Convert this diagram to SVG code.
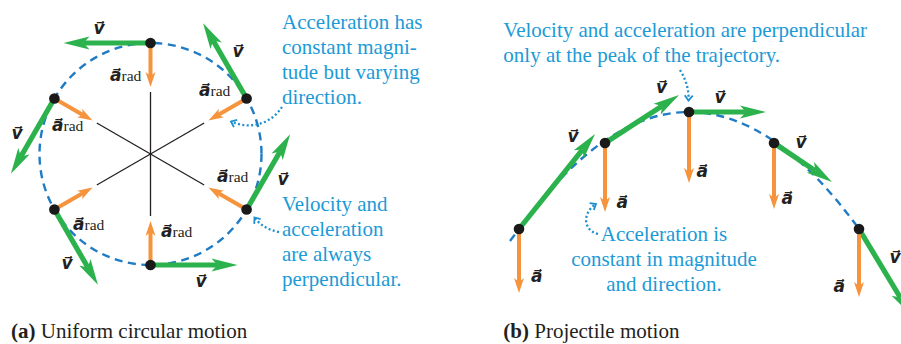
<svg xmlns="http://www.w3.org/2000/svg" width="901" height="344" viewBox="0 0 901 344">
<style>
.txt{font-family:"Liberation Serif","Times New Roman",serif;font-size:21px;fill:#1c9ad6}
.cap{font-family:"Liberation Serif","Times New Roman",serif;font-size:21px;fill:#231f20}
.vec{font-family:"DejaVu Sans",sans-serif;font-size:17px;font-weight:bold;font-style:italic;fill:#231f20}
.mid{text-anchor:middle}
.sub{font-family:"Liberation Serif","Times New Roman",serif;font-size:15.5px;font-weight:normal;font-style:normal}
.vel{stroke:#2bb24c;stroke-width:5.2;fill:none;marker-end:url(#gh)}
.acc{stroke:#f5943c;stroke-width:4;fill:none;marker-end:url(#oh)}
.dot{fill:#1a1a1a}
.spoke{stroke:#231f20;stroke-width:1.3}
.dash{stroke:#1f7bc4;stroke-width:2.4;fill:none;stroke-dasharray:8 5.5}
.ptr{stroke:#1c8fd0;stroke-width:2.3;fill:none;stroke-dasharray:2 2.4;marker-end:url(#ph)}
</style>
<defs>
<marker id="gh" markerUnits="userSpaceOnUse" viewBox="-10 -10 32 20" markerWidth="32" markerHeight="20" refX="0" refY="0" orient="auto" overflow="visible">
<path d="M20,0 L-6,-6.5 L0,0 L-6,6.5 Z" fill="#2bb24c"/>
</marker>
<marker id="oh" markerUnits="userSpaceOnUse" viewBox="-8 -8 22 16" markerWidth="22" markerHeight="16" refX="0" refY="0" orient="auto" overflow="visible">
<path d="M11,0 L-4,-5 L0,0 L-4,5 Z" fill="#f5943c"/>
</marker>
<marker id="ph" markerUnits="userSpaceOnUse" viewBox="-8 -6 10 12" markerWidth="10" markerHeight="12" refX="0" refY="0" orient="auto" overflow="visible">
<path d="M-5,-4 L0,0 L-5,4" fill="none" stroke="#1c8fd0" stroke-width="1.8"/>
</marker>
</defs>

<!-- (a) Uniform circular motion -->
<circle class="dash" cx="150.5" cy="154" r="111"/>
<g id="spokes">
<line class="spoke" x1="150.5" y1="92" x2="150.5" y2="216"/>
<line class="spoke" x1="204.2" y1="123" x2="96.8" y2="185"/>
<line class="spoke" x1="96.8" y1="123" x2="204.2" y2="185"/>
</g>

<g id="circ-top">
<line class="vel" x1="150.5" y1="43" x2="83.5" y2="43"/>
<line class="acc" x1="150.5" y1="43" x2="150.5" y2="76"/>
<circle class="dot" cx="150.5" cy="43" r="5.3"/>
<text class="vec" x="93.5" y="34">v&#x20D7;</text>
<text class="vec" x="110" y="81">a&#x20D7;<tspan class="sub">rad</tspan></text>
</g>
<g id="circ-upper-right">
<line class="vel" x1="246.6" y1="98.5" x2="213.1" y2="40.5"/>
<line class="acc" x1="246.6" y1="98.5" x2="218" y2="115"/>
<circle class="dot" cx="246.6" cy="98.5" r="5.3"/>
<text class="vec" x="232.5" y="57">v&#x20D7;</text>
<text class="vec" x="199" y="95.5">a&#x20D7;<tspan class="sub">rad</tspan></text>
</g>
<g id="circ-lower-right">
<line class="vel" x1="246.6" y1="209.5" x2="280.1" y2="151.5"/>
<line class="acc" x1="246.6" y1="209.5" x2="218" y2="193"/>
<circle class="dot" cx="246.6" cy="209.5" r="5.3"/>
<text class="vec" x="277.5" y="185">v&#x20D7;</text>
<text class="vec" x="217" y="182">a&#x20D7;<tspan class="sub">rad</tspan></text>
</g>
<g id="circ-bottom">
<line class="vel" x1="150.5" y1="265" x2="217.5" y2="265"/>
<line class="acc" x1="150.5" y1="265" x2="150.5" y2="232"/>
<circle class="dot" cx="150.5" cy="265" r="5.3"/>
<text class="vec" x="195.5" y="287">v&#x20D7;</text>
<text class="vec" x="161" y="237">a&#x20D7;<tspan class="sub">rad</tspan></text>
</g>
<g id="circ-lower-left">
<line class="vel" x1="54.4" y1="209.5" x2="87.9" y2="267.5"/>
<line class="acc" x1="54.4" y1="209.5" x2="83" y2="193"/>
<circle class="dot" cx="54.4" cy="209.5" r="5.3"/>
<text class="vec" x="61.5" y="269">v&#x20D7;</text>
<text class="vec" x="73" y="230">a&#x20D7;<tspan class="sub">rad</tspan></text>
</g>
<g id="circ-upper-left">
<line class="vel" x1="54.4" y1="98.5" x2="20.9" y2="156.5"/>
<line class="acc" x1="54.4" y1="98.5" x2="83" y2="115"/>
<circle class="dot" cx="54.4" cy="98.5" r="5.3"/>
<text class="vec" x="11.5" y="139">v&#x20D7;</text>
<text class="vec" x="52" y="131">a&#x20D7;<tspan class="sub">rad</tspan></text>
</g>

<g id="note-a1">
<text class="txt" x="282" y="28.5">Acceleration has</text>
<text class="txt" x="282" y="53.8">constant magni-</text>
<text class="txt" x="282" y="79.1">tude but varying</text>
<text class="txt" x="282" y="104.4">direction.</text>
</g>
<g id="note-a2">
<text class="txt" x="282" y="210.5">Velocity and</text>
<text class="txt" x="282" y="235.8">acceleration</text>
<text class="txt" x="282" y="261.1">are always</text>
<text class="txt" x="282" y="286.4">perpendicular.</text>
</g>

<!-- (b) Projectile motion -->
<path class="dash" d="M510,241 L519,229 Q689,-5 859,229 L868,241"/>

<g id="proj-1">
<line class="vel" x1="519" y1="229" x2="582.5" y2="149.6"/>
<line class="acc" x1="519" y1="229" x2="519" y2="282"/>
<circle class="dot" cx="519" cy="229" r="5.3"/>
<text class="vec" x="567.5" y="141.5">v&#x20D7;</text>
<text class="vec" x="531" y="282">a&#x20D7;</text>
</g>
<g id="proj-2">
<line class="vel" x1="605" y1="143" x2="662.2" y2="105.9"/>
<line class="acc" x1="605" y1="143" x2="605" y2="201"/>
<circle class="dot" cx="605" cy="143" r="5.3"/>
<text class="vec" x="656" y="93">v&#x20D7;</text>
<text class="vec" x="616.5" y="208">a&#x20D7;</text>
</g>
<g id="proj-3">
<line class="vel" x1="689" y1="112" x2="746" y2="112"/>
<line class="acc" x1="689" y1="112" x2="689" y2="172"/>
<circle class="dot" cx="689" cy="112" r="5.3"/>
<text class="vec" x="714.5" y="103">v&#x20D7;</text>
<text class="vec" x="696.5" y="177">a&#x20D7;</text>
</g>
<g id="proj-4">
<line class="vel" x1="774" y1="143" x2="815.4" y2="170.8"/>
<line class="acc" x1="774" y1="143" x2="774" y2="198"/>
<circle class="dot" cx="774" cy="143" r="5.3"/>
<text class="vec" x="795.5" y="148">v&#x20D7;</text>
<text class="vec" x="781.5" y="204">a&#x20D7;</text>
</g>
<g id="proj-5">
<line class="vel" x1="859" y1="229" x2="900.3" y2="297.5"/>
<line class="acc" x1="859" y1="229" x2="859" y2="286"/>
<circle class="dot" cx="859" cy="229" r="5.3"/>
<text class="vec" x="889.5" y="263">v&#x20D7;</text>
<text class="vec" x="833.5" y="292">a&#x20D7;</text>
</g>

<g id="note-b1">
<text class="txt" x="503.3" y="37">Velocity and acceleration are perpendicular</text>
<text class="txt" x="503.3" y="62">only at the peak of the trajectory.</text>
</g>
<g id="note-b2">
<text class="txt mid" x="664" y="241">Acceleration is</text>
<text class="txt mid" x="664" y="266">constant in magnitude</text>
<text class="txt mid" x="664" y="291">and direction.</text>
</g>

<g id="connectors">
<path class="ptr" d="M282,107 C271,124 250,130 231,121.5"/>
<path class="ptr" d="M279,232 Q263,229 254.5,217.5"/>
<path class="ptr" d="M680,70 C686,80 689,89 688.5,100.5"/>
<path class="ptr" d="M598,234 C582,230 583,212 596,204"/>
</g>

<g id="captions">
<text class="cap" x="11" y="338"><tspan font-weight="bold">(a)</tspan> Uniform circular motion</text>
<text class="cap" x="503.3" y="338"><tspan font-weight="bold">(b)</tspan> Projectile motion</text>
</g>
</svg>
